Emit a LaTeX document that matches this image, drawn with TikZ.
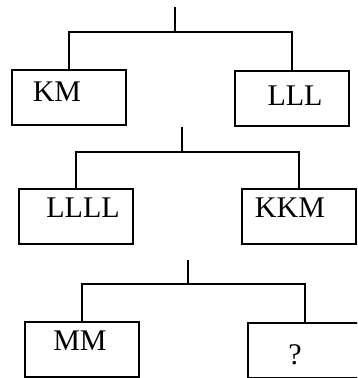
\documentclass[tikz,border=0pt]{standalone}
\usepackage{fontspec}
\setmainfont{Liberation Serif}
\usetikzlibrary{calc}
\tikzset{box/.style={draw=#1,line width=2pt,minimum width=114pt,minimum height=55pt,inner sep=0pt},box/.default=black}
\tikzset{word/.style={color=#1,inner sep=0pt,font=\fontsize{30}{30}\selectfont},word/.default=black}
\tikzset{branch/.style={color=#1,line width=1.6pt},branch/.default=black}

\begin{document}
\begin{tikzpicture}[x=1pt,y=-1pt]
		\useasboundingbox (0,0) rectangle (357,378);
		\clip (0,0) rectangle (357,378);
		% first level
		\node [box] (KM) at (69,97.5) {};
		\node [box] (LLL) at (292,98) {};
		\node [word] (kmtext) at (57,92) {KM};
		\node [word] (llltext) at (295,96) {LLL};
		\coordinate (top1) at (175,7);
		\coordinate (bar1) at (175,32);
		\draw [branch] (top1) -- (bar1);
		\draw [branch] (KM.north) |- (bar1) -| (LLL.north);
		
		% second level
		\node [box] (LLLL) at (76,216) {};
		\node [box] (KKM) at (299,216) {};
		\node [word] (lllltext) at (83,208) {LLLL};
		\node [word] (kkmtext) at (290,208) {KKM};
		\coordinate (top2) at (182,127);
		\coordinate (bar2) at (182,152);
		\draw [branch] (top2) -- (bar2);
		\draw [branch] (LLLL.north) |- (bar2) -| (KKM.north);
		
		% third level
		\node [box] (MM) at (82,349.5) {};
		\node [box] (Q) at (305,350) {};
		\node [word] (mmtext) at (80,341) {MM};
		\node [word] (qtext) at (295,355) {?};
		\coordinate (top3) at (188,260);
		\coordinate (bar3) at (188,284);
		\draw [branch] (top3) -- (bar3);
		\draw [branch] (MM.north) |- (bar3) -| (Q.north);
	\end{tikzpicture}
\end{document}
